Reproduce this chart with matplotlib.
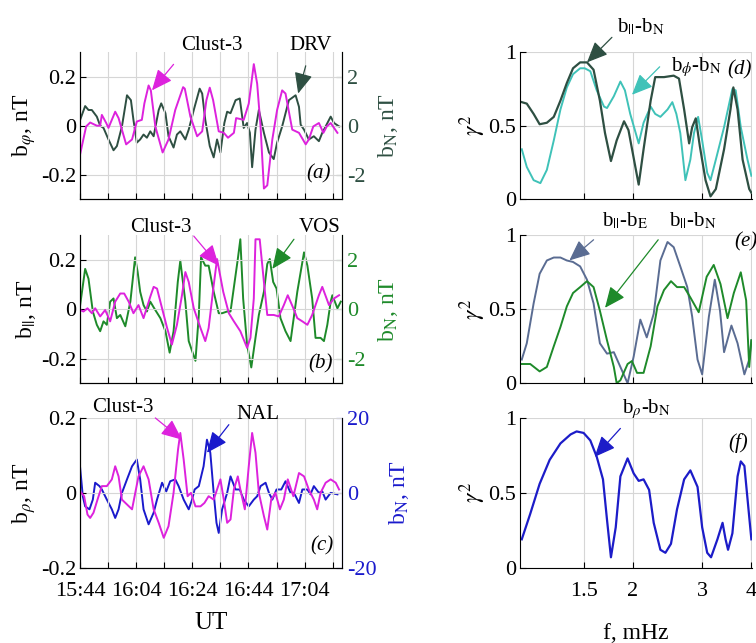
import matplotlib
matplotlib.use("Agg")
import matplotlib.pyplot as plt
import numpy as np

plt.rcParams["font.family"] = ["Liberation Serif", "DejaVu Serif"]
plt.rcParams["mathtext.fontset"] = "stix"
plt.rcParams["font.size"] = 16

# ---- time series (minutes after 15:44 UT) ----
t_a_sc = [0, 2.14, 3.57, 5.95, 7.14, 7.74, 9.29, 10.1, 12.5, 13.7, 16.4, 18.5, 20.2, 22.0, 22.9, 24.4,
          25.2, 26.8, 29.4, 31.5, 33.9, 36.7, 37.3, 39.3, 41.7, 43.5, 45.0, 46.2, 47.4, 49.4, 51.2, 52.7,
          54.8, 55.6, 58.3, 60.1, 61.9, 63.1, 64.3, 65.5, 66.7, 68.5, 70.2, 72.0, 73.2, 75.6, 78.0, 80.4,
          81.5, 83.1, 85.1, 86.7, 87.9, 89.3, 91.7]
b_phi = [-0.116, -0.003, 0.013, 0, 0, 0.044, 0.011, -0.009, 0.057, 0.031, -0.076, -0.056, 0.017, 0.024,
         0.091, 0.164, 0.144, -0.003, -0.109, -0.056, 0.064, 0.157, 0.151, 0.037, -0.043, -0.023, 0.104,
         0.155, 0.104, -0.023, -0.029, -0.049, -0.029, 0.031, 0.024, 0.09, 0.251, 0.171, -0.003, -0.256,
         -0.243, -0.056, 0.064, 0.144, 0.131, -0.016, -0.029, -0.076, -0.056, -0.003, 0.011, -0.029,
         -0.003, 0.011, -0.029]

t_drv = [0, 1.79, 2.98, 4.17, 5.95, 7.14, 8.33, 10.1, 11.9, 13.1, 14.9, 16.7, 18.1, 19.0, 20.2, 21.4,
         22.6, 23.8, 25.0, 26.2, 28.0, 28.9, 30.4, 31.5, 33.3, 34.5, 35.7, 37.5, 38.7, 40.5, 42.6, 43.5,
         44.6, 46.2, 47.6, 48.8, 50.0, 51.4, 52.4, 53.6, 55.4, 56.9, 58.3, 59.5, 60.5, 61.3, 62.5, 63.7,
         65.5, 67.3, 69.0, 70.2, 72.0, 74.4, 76.8, 78.0, 78.6, 79.8, 81.5, 83.3, 85.1, 86.3, 87.5, 89.3,
         90.5, 92.3]
bn_drv = [0.24, 0.8, 0.64, 0.64, 0.37, 0, -0.09, -0.56, -1.0, -0.83, -0.03, 1.24, 1.04, 0.24, -0.69,
          -0.56, -0.36, -0.49, -0.23, -0.43, 0.64, 0.91, 0.51, -0.43, -0.89, -0.36, -0.23, -0.56, -0.16,
          0.64, 1.51, 1.31, 0.24, -0.83, -1.29, -0.56, -1.09, 0.11, 0.57, 0.51, 1.04, 1.11, -0.09, 0.11,
          -0.29, -1.69, -0.16, 0.64, -0.29, -1.09, -1.36, -0.69, -0.03, 1.04, 1.24, 0.77, 0.04, -0.16,
          -0.56, -0.43, -0.63, -0.29, -0.03, 0.37, 0.11, -0.03]

t_b_sc = [0, 1.19, 2.62, 4.17, 5.36, 7.14, 8.93, 10.7, 12.5, 14.3, 15.7, 17.3, 19.0, 20.8, 22.6, 25.0,
          26.2, 27.4, 29.2, 31.0, 32.7, 34.5, 36.3, 37.5, 38.7, 40.5, 42.9, 44.6, 45.8, 47.6, 48.8, 51.0,
          53.0, 54.8, 57.1, 59.5, 60.7, 61.9, 62.5, 64.0, 65.5, 66.7, 69.0, 70.8, 72.6, 74.0, 76.0, 77.4,
          79.2, 81.0, 82.7, 85.1, 86.3, 88.7, 90.5, 92.3]
b_par = [-0.003, -0.009, 0.004, -0.016, 0.004, -0.029, -0.003, -0.049, 0.031, 0.064, 0.064, 0.031,
         -0.016, 0.017, -0.036, 0.051, 0.091, 0.084, 0.004, -0.076, -0.143, -0.063, 0.057, 0.151, 0.111,
         0.004, -0.076, -0.129, -0.076, 0.097, 0.204, 0.071, -0.016, -0.049, -0.089, -0.156, -0.116,
         0.044, 0.284, 0.284, 0.111, -0.023, -0.023, -0.029, 0.017, 0.057, 0.004, -0.036, -0.049,
         -0.063, -0.023, 0.057, 0.091, 0.017, 0.044, 0.057]

t_vos = [0, 1.79, 2.98, 4.52, 5.95, 7.14, 8.33, 9.52, 10.7, 11.9, 13.1, 14.3, 16.1, 17.9, 19.6, 20.5,
         21.4, 22.6, 23.8, 25.0, 26.4, 28.6, 30.4, 31.9, 33.3, 34.8, 35.7, 37.5, 38.7, 39.9, 41.1, 42.3,
         43.1, 44.6, 45.8, 47.6, 49.4, 50.6, 52.4, 53.6, 56.2, 57.1, 58.1, 59.5, 61.0, 62.5, 63.7, 65.5,
         66.7, 67.6, 68.8, 70.0, 71.4, 73.2, 75.0, 77.4, 79.8, 81.0, 82.7, 83.9, 85.7, 86.9, 88.1, 89.3,
         89.9, 91.7, 92.9]
bn_vos = [0.17, 1.64, 1.24, -0.09, -0.63, -0.89, -0.49, -0.63, 0.31, 0.44, -0.36, -0.23, -0.69, 0.31,
          2.11, 1.51, 0.71, 0.17, -0.09, 0.31, 0.04, -0.36, -0.89, -1.76, -0.89, 1.11, 1.97, 0.31, -1.29,
          -1.69, -2.09, -0.23, 2.11, 1.77, 1.77, 0.71, -0.16, -0.16, -0.09, -0.09, 2.04, 2.84, 0.44,
          -1.43, -2.36, -1.16, -0.23, 0.71, 1.84, 2.04, 1.11, 0.84, -0.36, -0.89, -1.29, 0.71, 2.31,
          1.77, 0.44, -1.16, -1.16, -1.29, -0.63, 0.31, 0.57, 0.04, 0.31]

t_c_sc = [0, 1.43, 2.62, 3.57, 4.76, 6.19, 7.74, 9.52, 11.3, 12.5, 13.7, 14.9, 16.7, 18.5, 20.8, 22.6,
          24.4, 26.2, 28.0, 29.8, 31.5, 33.3, 34.9, 35.7, 36.9, 38.3, 39.5, 41.1, 42.9, 44.3, 45.8, 47.6,
          48.8, 50.0, 51.2, 52.4, 53.6, 54.8, 56.2, 57.1, 58.7, 60.1, 61.3, 62.5, 63.7, 65.5, 66.7, 68.1,
          69.6, 71.2, 72.6, 74.0, 76.0, 78.0, 79.8, 81.5, 83.3, 84.5, 85.7, 87.5, 89.3, 91.1, 92.3]
b_rho = [0.004, -0.009, -0.058, -0.067, -0.053, -0.018, 0.018, 0.018, 0.036, 0.071, 0.044, -0.018,
         -0.031, -0.044, 0.044, 0.071, 0.036, -0.044, -0.08, -0.12, -0.089, 0, 0.116, 0.16, 0.089,
         -0.009, 0, -0.036, -0.036, -0.027, -0.009, -0.018, 0.009, 0.036, -0.018, -0.08, -0.071, 0.009,
         0.044, 0.009, -0.044, 0.071, 0.16, 0.107, 0, -0.062, -0.098, -0.018, 0, -0.044, -0.018, 0.036,
         -0.009, 0.053, 0.044, 0.009, -0.018, -0.044, 0, 0.027, 0.036, 0.027, 0.009]

t_nal = [0, 0.95, 1.79, 3.33, 4.52, 5.36, 6.9, 7.74, 9.52, 11.3, 12.5, 13.7, 14.9, 16.7, 18.5, 20.2,
         21.4, 22.6, 24.4, 26.2, 27.4, 29.2, 30.7, 32.1, 33.9, 35.1, 36.9, 38.7, 39.9, 40.8, 42.3, 44.0,
         45.2, 46.4, 47.6, 48.6, 49.4, 50.6, 52.4, 53.6, 55.4, 56.9, 58.3, 60.1, 61.9, 63.1, 64.3, 66.1,
         67.3, 68.5, 70.0, 71.7, 73.2, 75.0, 76.2, 78.0, 79.2, 81.0, 82.1, 83.3, 85.1, 86.3, 87.5, 89.3,
         91.7]
bn_nal = [6.7, -0.9, -3.6, -4.4, -1.8, 2.7, 1.8, 0.9, -1.8, -4.4, -6.7, -4.4, 0, 3.6, 7.1, 8.9, 3.6,
          -4.4, -8.4, -5.3, -1.8, 2.7, 0.4, 3.1, 3.6, 1.8, -1.8, -4.4, -1.8, 0.9, 1.8, 7.1, 14.2, 10.7,
          0, -8.0, -10.7, -4.4, 0, 4.4, 0.9, 0.9, -1.8, -3.6, -1.8, -0.9, 1.8, 2.7, 0, -1.8, 0.9, 0.9,
          3.1, 0, 0, -2.7, 0.9, 0.9, -0.4, 1.8, 0, 0.4, -1.8, 0, -0.4]

time_ticks = [0, 20, 40, 60, 80]
time_labels = ["15:44", "16:04", "16:24", "16:44", "17:04"]

# ---- coherence spectra ----
f_d1 = [1.045, 1.076, 1.12, 1.16, 1.21, 1.26, 1.31, 1.36, 1.41, 1.47, 1.53, 1.59, 1.65, 1.70, 1.76,
        1.82, 1.90, 1.95, 2.03, 2.07, 2.13, 2.22, 2.28, 2.40, 2.54, 2.62, 2.70, 2.78, 2.83, 2.89, 2.96,
        3.06, 3.15, 3.25, 3.41, 3.54, 3.60, 3.69, 3.80, 3.95, 4.0]
coh_par_n = [0.66, 0.65, 0.58, 0.51, 0.52, 0.56, 0.67, 0.79, 0.89, 0.93, 0.93, 0.88, 0.67, 0.45, 0.26,
             0.40, 0.53, 0.47, 0.22, 0.10, 0.34, 0.67, 0.83, 0.83, 0.84, 0.82, 0.61, 0.38, 0.49, 0.55,
             0.36, 0.13, 0.02, 0.07, 0.34, 0.61, 0.76, 0.61, 0.27, 0.07, 0.045]
f_d2 = [1.045, 1.076, 1.12, 1.165, 1.21, 1.26, 1.31, 1.36, 1.41, 1.47, 1.51, 1.56, 1.62, 1.69, 1.72,
        1.79, 1.86, 1.91, 1.97, 2.07, 2.13, 2.22, 2.28, 2.35, 2.45, 2.52, 2.58, 2.64, 2.72, 2.80, 2.86,
        2.93, 3.00, 3.09, 3.15, 3.25, 3.41, 3.58, 3.65, 3.76, 3.91, 4.0]
coh_phi_n = [0.34, 0.22, 0.13, 0.11, 0.20, 0.40, 0.61, 0.76, 0.85, 0.89, 0.89, 0.87, 0.74, 0.63, 0.62,
             0.70, 0.80, 0.74, 0.58, 0.38, 0.52, 0.63, 0.58, 0.56, 0.61, 0.66, 0.58, 0.45, 0.13, 0.27,
             0.45, 0.56, 0.40, 0.18, 0.13, 0.27, 0.49, 0.75, 0.74, 0.49, 0.27, 0.16]

f_e1 = [1.045, 1.076, 1.12, 1.16, 1.21, 1.26, 1.31, 1.36, 1.41, 1.47, 1.53, 1.59, 1.65, 1.72, 1.79,
        1.86, 1.94, 2.01, 2.09, 2.17, 2.26, 2.35, 2.45, 2.54, 2.64, 2.75, 2.83, 2.92, 3.00, 3.12, 3.23,
        3.33, 3.41, 3.56, 3.69, 3.84, 3.95, 4.0]
coh_par_e = [0.16, 0.27, 0.54, 0.74, 0.83, 0.85, 0.85, 0.83, 0.82, 0.79, 0.70, 0.54, 0.27, 0.20, 0.21,
             0.11, 0.0, 0.18, 0.43, 0.31, 0.47, 0.83, 0.955, 0.92, 0.79, 0.65, 0.45, 0.16, 0.06, 0.45,
             0.70, 0.49, 0.21, 0.39, 0.27, 0.06, 0.16, 0.29]
f_e2 = [1.045, 1.098, 1.16, 1.21, 1.26, 1.31, 1.36, 1.41, 1.47, 1.53, 1.59, 1.65, 1.72, 1.79, 1.82,
        1.86, 1.94, 1.99, 2.05, 2.13, 2.22, 2.31, 2.40, 2.50, 2.59, 2.70, 2.80, 2.94, 3.08, 3.21, 3.34,
        3.48, 3.61, 3.76, 3.88, 3.95, 4.0]
coh_par_n2 = [0.13, 0.13, 0.08, 0.11, 0.25, 0.38, 0.52, 0.61, 0.65, 0.69, 0.65, 0.49, 0.29, 0.11, 0.0,
              0.02, 0.13, 0.15, 0.07, 0.07, 0.25, 0.52, 0.63, 0.69, 0.65, 0.65, 0.58, 0.48, 0.72, 0.80,
              0.67, 0.44, 0.61, 0.75, 0.56, 0.11, 0.29]

f_f = [1.045, 1.098, 1.16, 1.23, 1.31, 1.39, 1.44, 1.5, 1.56, 1.62, 1.68, 1.72, 1.76, 1.81, 1.86, 1.94,
       2.01, 2.07, 2.13, 2.20, 2.26, 2.35, 2.42, 2.50, 2.59, 2.70, 2.80, 2.92, 3.00, 3.09, 3.16, 3.28,
       3.38, 3.44, 3.49, 3.58, 3.69, 3.76, 3.84, 3.95, 4.0]
coh_rho_n = [0.19, 0.36, 0.56, 0.72, 0.83, 0.89, 0.91, 0.90, 0.85, 0.74, 0.59, 0.32, 0.07, 0.27, 0.61,
             0.73, 0.63, 0.58, 0.59, 0.52, 0.30, 0.12, 0.10, 0.16, 0.39, 0.59, 0.65, 0.54, 0.27, 0.10,
             0.07, 0.19, 0.30, 0.19, 0.12, 0.23, 0.61, 0.71, 0.68, 0.34, 0.19]
f_ticks = [1.5, 2, 3, 4]
f_labels = ["1.5", "2", "3", "4"]

MAG = "#dd22dd"
C_DRV = "#2e4f42"
C_VOS = "#1e8a2a"
C_NAL = "#1a1acc"
C_TURQ = "#3fc2b8"
C_SLATE = "#5a6c92"
C_F = "#1c1cc8"
GRID = "#d6d6d6"

FS_TXT = 15   # annotations
FS_LAB = 17   # axis labels

fig = plt.figure(figsize=(7.56, 6.43), dpi=100)

ys = [(0.690, 0.229), (0.404, 0.230), (0.117, 0.233)]


def arrow(ax, tail, tip, color):
    ax.annotate("", xy=tip, xytext=tail,
                arrowprops=dict(arrowstyle="-|>,head_length=0.8,head_width=0.35",
                                color=color, lw=0.9, shrinkA=0, shrinkB=0),
                annotation_clip=False)


def left_panel(pos, t1, y1, t2, y2, c2, ylab, lim1, lim2, ticks2, show_x):
    ax = fig.add_axes([0.106, pos[0], 0.347, pos[1]])
    ax.set_xlim(0, 93.5)
    ax.set_ylim(*lim1)
    ax.set_xticks(np.arange(0, 93, 10))
    ax.set_xticklabels([time_labels[time_ticks.index(v)] if v in time_ticks else "" for v in range(0, 93, 10)]
                       if show_x else [])
    ax.set_yticks([-0.2, 0, 0.2])
    ax.set_yticklabels(["-0.2", "0", "0.2"])
    ax.grid(True, color=GRID, lw=0.8)
    ax.set_axisbelow(True)
    ax.tick_params(direction="in", length=4, pad=3)
    ax.spines["top"].set_visible(False)
    ax.set_ylabel(ylab, fontsize=FS_LAB, labelpad=2)
    ax2 = ax.twinx()
    ax2.plot(t2, y2, color=c2, lw=1.4)
    ax2.set_ylim(*lim2)
    ax2.set_yticks(ticks2)
    ax2.set_yticklabels([str(v) for v in ticks2])
    ax2.tick_params(direction="in", length=4, colors=c2, pad=3)
    ax2.spines["right"].set_color(c2)
    ax2.spines["top"].set_visible(False)
    ax2.set_ylabel(r"b$_\mathrm{N}$, nT", color=c2, fontsize=FS_LAB, labelpad=8)
    ax.set_zorder(ax2.get_zorder() + 1)
    ax.patch.set_visible(False)
    ax.plot(t1, y1, color=MAG, lw=1.4)
    return ax, ax2


# (a)
ax, ax2 = left_panel(ys[0], t_a_sc, b_phi, t_drv, bn_drv, C_DRV, r"b$_\varphi$, nT",
                     (-0.3, 0.3), (-3, 3), [-2, 0, 2], False)
ax.text(47, 0.29, "Clust-3", ha="center", va="bottom", fontsize=FS_TXT)
arrow(ax, (33.3, 0.25), (25.6, 0.144), MAG)
ax.text(82.1, 0.29, "DRV", ha="center", va="bottom", fontsize=FS_TXT)
arrow(ax, (80.4, 0.244), (77.7, 0.131), C_DRV)
ax.text(84.8, -0.196, "(a)", ha="center", va="center", style="italic", fontsize=FS_TXT)

# (b)
ax, ax2 = left_panel(ys[1], t_b_sc, b_par, t_vos, bn_vos, C_VOS, r"b$_{||}$, nT",
                     (-0.3, 0.3), (-3, 3), [-2, 0, 2], False)
ax.text(28.8, 0.33, "Clust-3", ha="center", va="center", fontsize=FS_TXT)
arrow(ax, (40.5, 0.297), (49.4, 0.177), MAG)
ax.text(85.5, 0.33, "VOS", ha="center", va="center", fontsize=FS_TXT)
arrow(ax, (76.2, 0.284), (68.5, 0.164), C_VOS)
ax.text(85.5, -0.223, "(b)", ha="center", va="center", style="italic", fontsize=FS_TXT)

# (c)
ax, ax2 = left_panel(ys[2], t_c_sc, b_rho, t_nal, bn_nal, C_NAL, r"b$_\rho$, nT",
                     (-0.2, 0.2), (-20, 20), [-20, 0, 20], True)
ax.text(15.1, 0.227, "Clust-3", ha="center", va="center", fontsize=FS_TXT)
arrow(ax, (26.8, 0.2), (36.3, 0.142), MAG)
ax.text(63.4, 0.209, "NAL", ha="center", va="center", fontsize=FS_TXT)
arrow(ax, (53, 0.182), (45.2, 0.107), C_NAL)
ax.text(86, -0.142, "(c)", ha="center", va="center", style="italic", fontsize=FS_TXT)
ax.tick_params(axis="x", pad=10)
ax.set_xlabel("UT", fontsize=FS_LAB + 1, labelpad=8)


def right_panel(pos, show_x):
    ax = fig.add_axes([0.688, pos[0], 0.307, pos[1]])
    ax.set_xscale("log")
    ax.set_xlim(1.035, 4.02)
    ax.set_ylim(0, 1)
    ax.set_xticks(f_ticks)
    ax.xaxis.set_minor_locator(plt.NullLocator())
    ax.set_xticklabels(f_labels if show_x else [])
    ax.set_yticks([0, 0.5, 1])
    ax.set_yticklabels(["0", "0.5", "1"])
    ax.grid(True, color=GRID, lw=0.8)
    ax.set_axisbelow(True)
    ax.tick_params(direction="in", length=4, pad=3)
    ax.spines["top"].set_visible(False)
    ax.spines["right"].set_visible(False)
    ax.set_ylabel(r"$\gamma^2$", fontsize=FS_LAB, labelpad=0)
    return ax


# (d)
ax = right_panel(ys[0], False)
ax.plot(f_d2, coh_phi_n, color=C_TURQ, lw=1.4)
ax.plot(f_d1, coh_par_n, color=C_DRV, lw=1.6)
ax.text(2.09, 1.1, r"b$_{||}$-b$_\mathrm{N}$", ha="center", va="bottom", fontsize=FS_TXT)
arrow(ax, (1.77, 1.10), (1.53, 0.93), C_DRV)
ax.text(2.91, 0.9, r"b$_\phi$-b$_\mathrm{N}$", ha="center", va="center", fontsize=FS_TXT)
arrow(ax, (2.34, 0.90), (1.99, 0.71), C_TURQ)
ax.text(3.74, 0.88, "(d)", ha="center", va="center", style="italic", fontsize=FS_TXT)

# (e)
ax = right_panel(ys[1], False)
ax.plot(f_e1, coh_par_e, color=C_SLATE, lw=1.4)
ax.plot(f_e2, coh_par_n2, color=C_VOS, lw=1.4)
ax.text(1.91, 1.1, r"b$_{||}$-b$_\mathrm{E}$", ha="center", va="center", fontsize=FS_TXT)
ax.text(2.84, 1.1, r"b$_{||}$-b$_\mathrm{N}$", ha="center", va="center", fontsize=FS_TXT)
arrow(ax, (1.59, 0.97), (1.38, 0.83), C_SLATE)
arrow(ax, (2.32, 0.97), (1.70, 0.51), C_VOS)
ax.text(3.87, 0.955, "(e)", ha="center", va="center", style="italic", fontsize=FS_TXT)

# (f)
ax = right_panel(ys[2], True)
ax.plot(f_f, coh_rho_n, color=C_F, lw=1.6)
ax.text(2.17, 1.06, r"b$_\rho$-b$_\mathrm{N}$", ha="center", va="center", fontsize=FS_TXT)
arrow(ax, (1.86, 0.93), (1.60, 0.74), C_F)
ax.text(3.7, 0.83, "(f)", ha="center", va="center", style="italic", fontsize=FS_TXT)
ax.tick_params(axis="x", pad=10)
ax.set_xlabel("f, mHz", fontsize=FS_LAB, labelpad=16)

fig.savefig("out.png", dpi=100)
